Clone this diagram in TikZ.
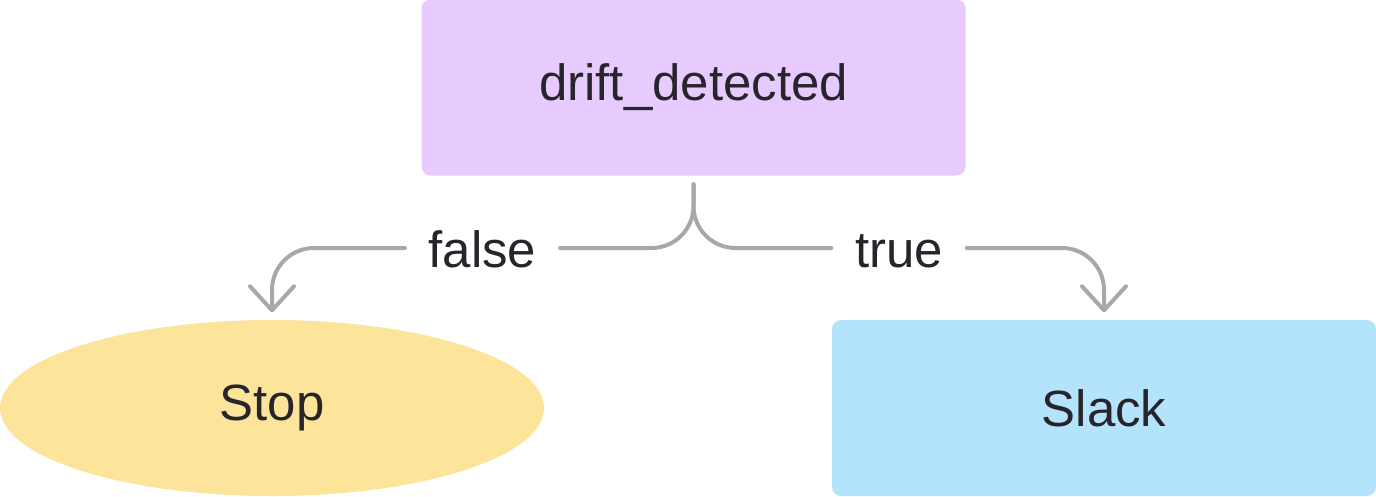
\documentclass[tikz,border=0pt]{standalone}
\usepackage{fontspec}
\setmainfont{Liberation Sans}
\usetikzlibrary{arrows.meta,shapes.geometric}
\definecolor{decfill}{HTML}{E8CBFE}
\definecolor{stopfill}{HTML}{FCE59B}
\definecolor{slackfill}{HTML}{B4E4FC}
\definecolor{edgegray}{HTML}{A9A7AC}
\definecolor{ink}{HTML}{28242B}

\begin{document}
\begin{tikzpicture}[
  main/.style = {inner sep=0pt, minimum width=5.44cm, minimum height=1.76cm, text=ink, font=\fontsize{14.5}{17}\selectfont},
  box/.style = {main, rectangle, rounded corners=0.09cm},
  term/.style = {main, ellipse},
  lbl/.style = {inner xsep=0.23cm, inner ysep=0pt, text height=0.38cm, text depth=0cm, text=ink, font=\fontsize{14.5}{17}\selectfont},
  edge/.style = {draw=edgegray, line width=0.04cm, line cap=round, rounded corners=0.42cm},
  tip/.style = {-{Straight Barb[length=0.24cm, width=0.44cm, round]}}
]
  \useasboundingbox (0,0) rectangle (13.76,-4.96);
  \node[box, fill=decfill] (dec) at (6.935,-0.875) {drift\_detected};
  \node[term, fill=stopfill] (stop) at (2.72,-4.08) {Stop};
  \node[box, fill=slackfill] (slack) at (11.04,-4.08) {Slack};
  \node[lbl] (false) at (4.825,-2.48) {false};
  \node[lbl] (true) at (8.99,-2.48) {true};
  % branches out of the decision
  \draw[edge] ([yshift=-0.08cm]dec.south) |- (false.east);
  \draw[edge] ([yshift=-0.08cm]dec.south) |- (true.west);
  \draw[edge, tip] (false.west) -| ([yshift=0.07cm]stop.north);
  \draw[edge, tip] (true.east) -| ([yshift=0.07cm]slack.north);
\end{tikzpicture}
\end{document}
